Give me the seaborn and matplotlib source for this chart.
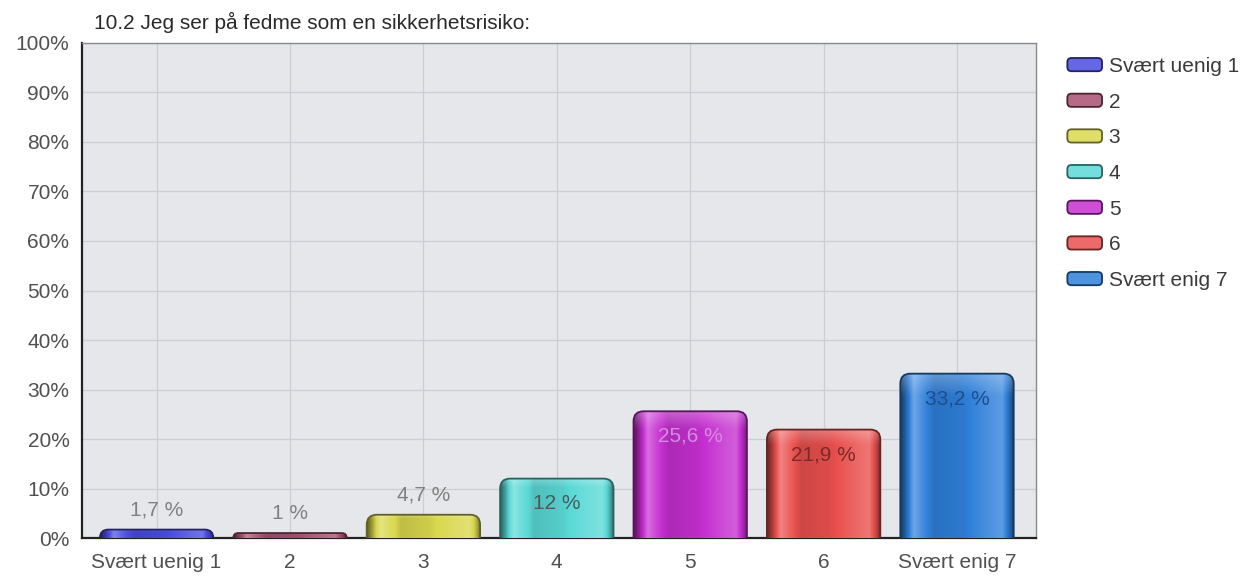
import numpy as np
import pandas as pd
import matplotlib
matplotlib.use("Agg")
import matplotlib.pyplot as plt
import matplotlib.colors as mcolors
from matplotlib.patches import FancyBboxPatch
from matplotlib.legend_handler import HandlerPatch
import matplotlib.patches as mpatches
import seaborn as sns

# ---- data ----
categories = ["Svært uenig 1", "2", "3", "4", "5", "6", "Svært enig 7"]
values = [1.7, 1.0, 4.7, 12.0, 25.6, 21.9, 33.2]
value_labels = ["1,7 %", "1 %", "4,7 %", "12 %", "25,6 %", "21,9 %", "33,2 %"]
bar_colors = ["#4b4ce0", "#a8506f", "#d9d84e", "#5ad9d6", "#c52fd0", "#e9504e", "#2f80da"]
label_colors = ["#808080", "#808080", "#808080", "#4a5a5a", "#d58ce0", "#7a2a2a", "#1d4f8f"]
yticks = list(range(0, 101, 10))
ytick_labels = [f"{t}%" for t in yticks]
title = "10.2 Jeg ser på fedme som en sikkerhetsrisiko:"

df = pd.DataFrame({"kategori": categories, "andel": values})

sns.set_theme(style="white")
plt.rcParams["font.family"] = ["Liberation Sans", "DejaVu Sans"]

FS = 15

fig = plt.figure(figsize=(12.6, 5.81), dpi=100)
ax = fig.add_axes([0.065, 0.074, 0.757, 0.852])

sns.barplot(data=df, x="kategori", y="andel", hue="kategori", order=categories,
            hue_order=categories, palette=bar_colors, legend=False, width=0.85,
            ax=ax, zorder=3)

ax.set_xlim(-0.56, 6.59)
ax.set_ylim(0, 100)
ax.set_facecolor("#e5e7ea")
ax.set_yticks(yticks)
ax.set_yticklabels(ytick_labels)
ax.set_xlabel("")
ax.set_ylabel("")
ax.grid(True, color="#cbced2", linewidth=0.9, zorder=0)
ax.set_axisbelow(True)

for side in ("left", "bottom"):
    ax.spines[side].set_color("#222222")
    ax.spines[side].set_linewidth(1.6)
for side in ("top", "right"):
    ax.spines[side].set_color("#8a8a8a")
    ax.spines[side].set_linewidth(1.0)
    ax.spines[side].set_visible(True)

ax.tick_params(axis="both", direction="out", length=6, width=1.4, color="#222222",
               labelsize=FS, labelcolor="#505050", pad=3)
ax.tick_params(axis="x", pad=5)

fig.text(0.075, 0.962, title, fontsize=FS, color="#2a2a2a", ha="left", va="center")

fig.canvas.draw()
# data units per pixel, used to make the rounded corners circular on screen
bbox_px = ax.get_window_extent()
x_per_px = (ax.get_xlim()[1] - ax.get_xlim()[0]) / bbox_px.width
y_per_px = (ax.get_ylim()[1] - ax.get_ylim()[0]) / bbox_px.height
aspect = y_per_px / x_per_px


def shade(color, f):
    rgb = np.array(mcolors.to_rgb(color))
    if f >= 1:
        return rgb + (1 - rgb) * (f - 1)
    return rgb * f


# glossy horizontal profile across each bar
prof_t = np.array([0.0, 0.04, 0.12, 0.2, 0.3, 0.55, 0.8, 0.9, 0.96, 1.0])
prof_f = np.array([0.45, 0.7, 1.3, 1.1, 0.88, 0.95, 1.15, 1.22, 0.85, 0.5])

bars = list(ax.patches)
for patch, color in zip(bars, bar_colors):
    x0 = patch.get_x()
    w = patch.get_width()
    h = patch.get_height()
    patch.remove()
    ry = max(min(10 * y_per_px, h), 0.6)
    rx = ry / aspect
    bottom = -ry
    fb = FancyBboxPatch((x0, bottom), w, h - bottom,
                        boxstyle=f"round,pad=0,rounding_size={rx}",
                        mutation_aspect=aspect,
                        facecolor="none", edgecolor=shade(color, 0.45),
                        linewidth=1.3, zorder=5)
    ax.add_patch(fb)
    t = np.linspace(0, 1, 200)
    f = np.interp(t, prof_t, prof_f)
    grad = np.array([shade(color, v) for v in f])[None, :, :]
    grad2 = np.repeat(grad, 40, axis=0)
    s = np.linspace(0, 1, 40)[:, None, None]
    top_glow = np.clip(1 - s / 0.12, 0, 1) * 0.25
    grad2 = np.clip(grad2 + (1 - grad2) * top_glow, 0, 1)
    im = ax.imshow(grad2, extent=(x0, x0 + w, bottom, h), aspect="auto",
                   origin="upper", zorder=4, interpolation="bilinear")
    im.set_clip_path(fb)

ax.set_xlim(-0.56, 6.59)
ax.set_ylim(0, 100)

for i, (v, lab, lc) in enumerate(zip(values, value_labels, label_colors)):
    offset = 20 if v < 8 else -25
    ax.annotate(lab, (i, v), xytext=(0, offset), textcoords="offset pixels",
                ha="center", va="center", fontsize=FS, color=lc, zorder=6)


class RoundHandler(HandlerPatch):
    def create_artists(self, legend, orig_handle, xdescent, ydescent,
                       width, height, fontsize, trans):
        p = FancyBboxPatch((-xdescent + 1, -ydescent), width - 2, height,
                           boxstyle="round,pad=0,rounding_size=3",
                           facecolor=orig_handle.get_facecolor(),
                           edgecolor=orig_handle.get_edgecolor(),
                           linewidth=1.3, transform=trans)
        return [p]


handles = [mpatches.Patch(facecolor=shade(c, 1.15), edgecolor=shade(c, 0.45))
           for c in bar_colors]
leg = fig.legend(handles, categories, loc="upper left",
                 bbox_to_anchor=(0.846, 0.902), frameon=False, fontsize=FS,
                 handlelength=1.8, handleheight=0.6, handletextpad=0.25,
                 labelspacing=0.8, borderaxespad=0, borderpad=0,
                 handler_map={mpatches.Patch: RoundHandler()})
for txt in leg.get_texts():
    txt.set_color("#3a3a3a")

fig.savefig("out.png", dpi=100, facecolor="white")
